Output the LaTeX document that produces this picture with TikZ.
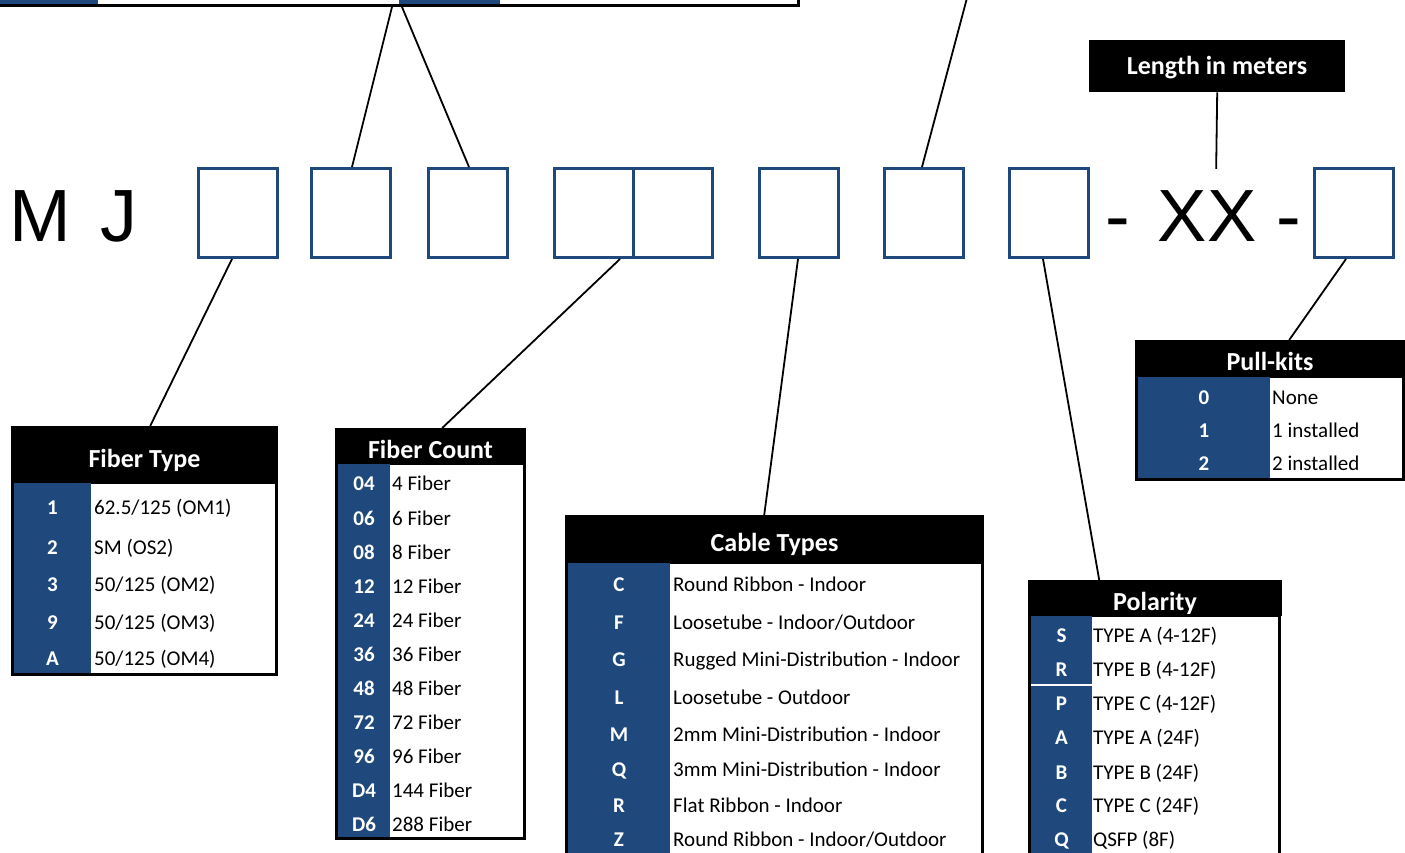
\documentclass[tikz,border=0pt]{standalone}
\usepackage{fontspec}
\setmainfont{Carlito}
\newfontfamily\bigfont{Liberation Sans}
\usetikzlibrary{calc}
\definecolor{mjblue}{RGB}{31,73,125}
\newcommand\valfont{\fontsize{21}{25}\selectfont}
\newcommand\keyfont{\bfseries\fontsize{21}{25}\selectfont}
\newcommand\hdrfont{\bfseries\fontsize{26}{30}\selectfont}
\newcommand\codefont{\bigfont\fontsize{74}{80}\selectfont}
\begin{document}
\begin{tikzpicture}[x=1pt,y=-1pt,
  codebox/.style={draw=mjblue, line width=3pt, minimum width=79pt, minimum height=89pt, inner sep=0pt},
  conn/.style={line width=1.8pt, draw=black},
  hdrbox/.style={fill=black, inner sep=0pt, anchor=north west},
  hdr/.style={text=white, font=\hdrfont, anchor=base, inner sep=0pt},
  key/.style={text=white, font=\keyfont, anchor=base, inner sep=0pt},
  val/.style={text=black, font=\valfont, anchor=base west, inner sep=0pt},
  frame/.style={fill=white, draw=black, line width=3pt},
  code/.style={font=\codefont, anchor=base west, inner sep=0pt}]
\useasboundingbox (0,0) rectangle (1405,853);
\clip (0,0) rectangle (1405,853);

% partial box at the top
\fill[mjblue] (0,-5) rectangle (98,4);
\fill[mjblue] (399,-5) rectangle (500,4);
\draw[line width=3pt] (-5,5.5) -- (798.5,5.5) -- (798.5,-5);

% code boxes
\node[codebox] (b1) at (238,213) {};
\node[codebox] (b2) at (350.5,213) {};
\node[codebox] (b3) at (467.5,213) {};
\node[codebox] (b4a) at (593.5,213) {};
\node[codebox] (b4b) at (672.5,213) {};
\node[codebox] (b5) at (799,213) {};
\node[codebox] (b6) at (923.5,213) {};
\node[codebox] (b7) at (1048.5,213) {};
\node[codebox] (b8) at (1354,213) {};

\node[code] (mj) at (9,241) {M\hspace{30pt}J};
\node[code] (d1) at (1105.7,241) {-};
\node[code] (xx) at (1157.6,241) {XX};
\node[code] (d2) at (1276.7,241) {-};

% headers
\node[hdrbox, minimum width=256pt, minimum height=52pt] (len) at (1089,40) {};
\node[hdr] at (1217,75) {Length in meters};

\node[hdrbox, minimum width=267pt, minimum height=57pt] (ft) at (11,426) {};
\node[hdrbox, minimum width=191pt, minimum height=36pt] (fc) at (335,428) {};
\node[hdrbox, minimum width=419pt, minimum height=48pt] (ct) at (565,515) {};
\node[hdrbox, minimum width=254pt, minimum height=36pt] (po) at (1028,580) {};
\node[hdrbox, minimum width=270pt, minimum height=37pt] (pk) at (1135,340) {};

% connectors
\coordinate (t1) at (392,7);
\coordinate (t2) at (402,7);
\coordinate (t3) at (967,-2);
\draw[conn] (t1) -- ($(b2.north)+(1.5,0)$);
\draw[conn] (t2) -- ($(b3.north)+(1.5,0)$);
\draw[conn] (t3) -- ($(b6.north)+(-1.5,0)$);
\draw[conn] (len.south) -- ($(xx.north)+(9,-21)$);
\draw[conn] ($(b1.south)+(-6,0)$) -- ($(ft.north)+(5.5,0)$);
\draw[conn] ($(b4a.south)+(26.5,0)$) -- ($(fc.north)+(11.5,0)$);
\draw[conn] ($(b5.south)+(-1,0)$) -- ($(ct.north)+(-10.5,0)$);
\draw[conn] ($(b7.south)+(-5.5,0)$) -- ($(po.north)+(-56,0)$);
\draw[conn] ($(b8.south)+(-8,0)$) -- ($(pk.north)+(19,0)$);

% Fiber Type
\node[hdr] at (144.5,467) {Fiber Type};
\draw[frame] (12.5,482) rectangle (276.5,674.5);
\fill[mjblue] (14,483) rectangle (91,673);
\node[key] at (52.5,514) {1}; \node[val] at (94,514) {62.5/125 (OM1)};
\node[key] at (52.5,554) {2}; \node[val] at (94,554) {SM (OS2)};
\node[key] at (52.5,591) {3}; \node[val] at (94,591) {50/125 (OM2)};
\node[key] at (52.5,629) {9}; \node[val] at (94,629) {50/125 (OM3)};
\node[key] at (52.5,665) {A}; \node[val] at (94,665) {50/125 (OM4)};

% Fiber Count
\node[hdr] at (430.5,458) {Fiber Count};
\draw[frame] (336.5,463) rectangle (524.5,838.5);
\fill[mjblue] (338,464) rectangle (390,837);
\node[key] at (364,490) {04}; \node[val] at (392,490) {4 Fiber};
\node[key] at (364,525) {06}; \node[val] at (392,525) {6 Fiber};
\node[key] at (364,559) {08}; \node[val] at (392,559) {8 Fiber};
\node[key] at (364,593) {12}; \node[val] at (392,593) {12 Fiber};
\node[key] at (364,627) {24}; \node[val] at (392,627) {24 Fiber};
\node[key] at (364,661) {36}; \node[val] at (392,661) {36 Fiber};
\node[key] at (364,695) {48}; \node[val] at (392,695) {48 Fiber};
\node[key] at (364,729) {72}; \node[val] at (392,729) {72 Fiber};
\node[key] at (364,763) {96}; \node[val] at (392,763) {96 Fiber};
\node[key] at (364,797) {D4}; \node[val] at (392,797) {144 Fiber};
\node[key] at (364,831) {D6}; \node[val] at (392,831) {288 Fiber};

% Cable Types
\node[hdr] at (774.5,551) {Cable Types};
\draw[frame] (566.5,562) rectangle (982.5,880);
\fill[mjblue] (568,563) rectangle (670,880);
\node[key] at (619,591) {C}; \node[val] at (673,591) {Round Ribbon - Indoor};
\node[key] at (619,629) {F}; \node[val] at (673,629) {Loosetube - Indoor/Outdoor};
\node[key] at (619,666) {G}; \node[val] at (673,666) {Rugged Mini-Distribution - Indoor};
\node[key] at (619,704) {L}; \node[val] at (673,704) {Loosetube - Outdoor};
\node[key] at (619,741) {M}; \node[val] at (673,741) {2mm Mini-Distribution - Indoor};
\node[key] at (619,776) {Q}; \node[val] at (673,776) {3mm Mini-Distribution - Indoor};
\node[key] at (619,812) {R}; \node[val] at (673,812) {Flat Ribbon - Indoor};
\node[key] at (619,846) {Z}; \node[val] at (673,846) {Round Ribbon - Indoor/Outdoor};

% Polarity
\node[hdr] at (1155,610) {Polarity};
\draw[frame] (1029.5,615) rectangle (1279.5,880);
\fill[mjblue] (1031,616) rectangle (1092,880);
\draw[white, line width=1.5pt] (1031,685) -- (1092,685);
\node[key] at (1061.5,642) {S}; \node[val] at (1093,642) {TYPE A (4-12F)};
\node[key] at (1061.5,676) {R}; \node[val] at (1093,676) {TYPE B (4-12F)};
\node[key] at (1061.5,710) {P}; \node[val] at (1093,710) {TYPE C (4-12F)};
\node[key] at (1061.5,744) {A}; \node[val] at (1093,744) {TYPE A (24F)};
\node[key] at (1061.5,779) {B}; \node[val] at (1093,779) {TYPE B (24F)};
\node[key] at (1061.5,812) {C}; \node[val] at (1093,812) {TYPE C (24F)};
\node[key] at (1061.5,846) {Q}; \node[val] at (1093,846) {QSFP (8F)};

% Pull-kits
\node[hdr] at (1270,370) {Pull-kits};
\draw[frame] (1136.5,376) rectangle (1403.5,479.5);
\fill[mjblue] (1138,377) rectangle (1270,478);
\node[key] at (1204,404) {0}; \node[val] at (1272,404) {None};
\node[key] at (1204,437) {1}; \node[val] at (1272,437) {1 installed};
\node[key] at (1204,470) {2}; \node[val] at (1272,470) {2 installed};
\end{tikzpicture}
\end{document}
